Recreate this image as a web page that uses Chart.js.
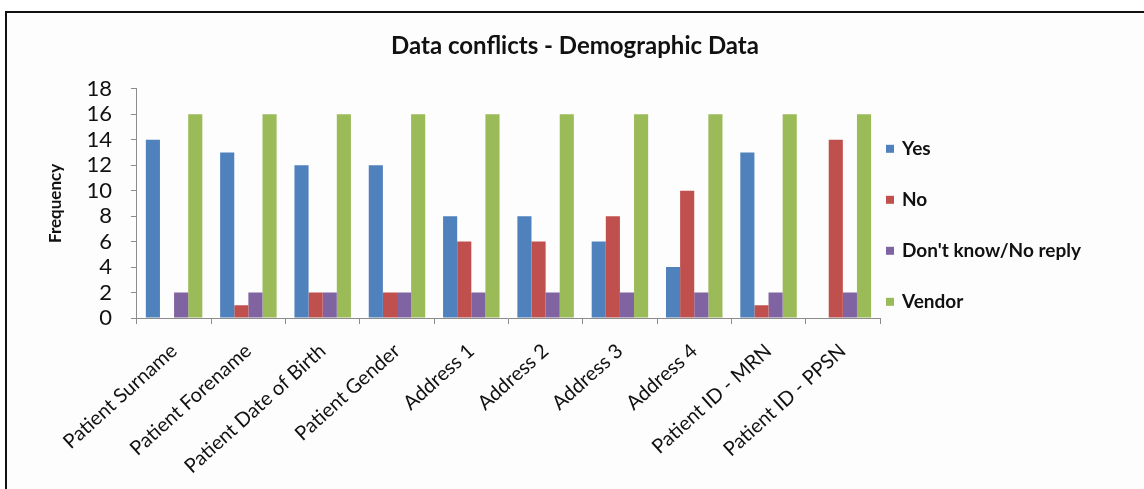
<!DOCTYPE html>
<html>
<head>
<meta charset="utf-8">
<title>Data conflicts - Demographic Data</title>
<script src="https://cdn.jsdelivr.net/npm/chart.js@4"></script>
<style>
    body { margin: 0; background: #ffffff; }
    #frame {
        position: absolute; left: 5px; top: 11px; width: 1139px; height: 478px;
        border-top: 2px solid #111; border-left: 2px solid #111;
        box-sizing: border-box; background: #fdfdfd;
    }
    #demographicChart { position: absolute; left: 0; top: 0; }
</style>
</head>
<body>
<div id="frame"></div>
<canvas id="demographicChart" width="1144" height="489"></canvas>
<script>
const fields = [
    'Patient Surname', 'Patient Forename', 'Patient Date of Birth', 'Patient Gender',
    'Address 1', 'Address 2', 'Address 3', 'Address 4', 'Patient ID - MRN', 'Patient ID - PPSN'
];
const yesCounts    = [14, 13, 12, 12, 8, 8, 6, 4, 13, 0];
const noCounts     = [0, 1, 2, 2, 6, 6, 8, 10, 1, 14];
const unknownCounts = [2, 2, 2, 2, 2, 2, 2, 2, 2, 2];
const vendorCounts = [16, 16, 16, 16, 16, 16, 16, 16, 16, 16];
const seriesNames = ['Yes', 'No', "Don't know/No reply", 'Vendor'];
const yTicks = [0, 2, 4, 6, 8, 10, 12, 14, 16, 18];

const seriesColors = ['#4f81bd', '#c0504d', '#8064a2', '#9bbb59'];
const fontFamily = 'Lato, "Open Sans", sans-serif';

// legend drawn in the space kept free by the blank right axis, one item every 51px
const sideLegend = {
    id: 'sideLegend',
    afterDraw(chart) {
        const ctx = chart.ctx;
        const area = chart.chartArea;
        ctx.save();
        ctx.font = 'bold 19px ' + fontFamily;
        ctx.textBaseline = 'middle';
        chart.data.datasets.forEach((ds, i) => {
            const y = area.top + 60 + i * 51;
            const x = area.right + 6;
            ctx.fillStyle = ds.backgroundColor;
            ctx.fillRect(x, y - 4, 8, 8);
            ctx.fillStyle = '#111';
            ctx.fillText(ds.label, x + 16, y);
        });
        ctx.restore();
    }
};

function drawDemographicChart() {
    const series = [yesCounts, noCounts, unknownCounts, vendorCounts];
    const ctx = document.getElementById('demographicChart').getContext('2d');
    const myBarChart = new Chart(ctx, {
        type: 'bar',
        data: {
            labels: fields,
            datasets: series.map((values, i) => ({
                label: seriesNames[i],
                data: values,
                backgroundColor: seriesColors[i],
                borderWidth: 0,
                categoryPercentage: 0.76,
                barPercentage: 1.0
            }))
        },
        options: {
            responsive: false,
            animation: false,
            layout: {
                padding: { left: 45, right: 39, top: 14, bottom: 0 }
            },
            plugins: {
                title: {
                    display: true,
                    text: 'Data conflicts - Demographic Data',
                    color: '#111',
                    font: { family: fontFamily, size: 24, weight: 'bold' },
                    padding: { top: 18, bottom: 28 }
                },
                legend: { display: false },
                tooltip: { enabled: false }
            },
            scales: {
                x: {
                    grid: {
                        offset: true,
                        drawOnChartArea: false,
                        tickLength: 6,
                        color: '#8c8c8c'
                    },
                    border: { color: '#8c8c8c' },
                    ticks: {
                        color: '#111',
                        font: { family: fontFamily, size: 20 },
                        minRotation: 42,
                        maxRotation: 42,
                        autoSkip: false,
                        padding: 15
                    },
                    // rotated labels may hang past the plot edge; fixed band height below the axis
                    afterFit: scale => {
                        scale.paddingLeft = 0;
                        scale.paddingRight = 0;
                        scale.height = 171;
                    }
                },
                y: {
                    min: 0,
                    max: 18,
                    afterBuildTicks: scale => { scale.ticks = yTicks.map(v => ({ value: v })); },
                    grid: {
                        drawOnChartArea: false,
                        tickLength: 6,
                        color: '#8c8c8c'
                    },
                    border: { color: '#8c8c8c' },
                    ticks: {
                        color: '#111',
                        font: { family: fontFamily, size: 22 },
                        autoSkip: false,
                        padding: 19
                    },
                    title: {
                        display: true,
                        text: 'Frequency',
                        color: '#111',
                        font: { family: fontFamily, size: 17, weight: 'bold' },
                        padding: { top: 0, bottom: 2 }
                    }
                },
                // blank axis that only reserves room for the legend
                legendSpace: {
                    position: 'right',
                    display: true,
                    grid: { display: false },
                    border: { display: false },
                    ticks: { display: false },
                    afterFit: scale => { scale.width = 225; }
                }
            }
        },
        plugins: [sideLegend]
    });
}

drawDemographicChart();
</script>
</body>
</html>
